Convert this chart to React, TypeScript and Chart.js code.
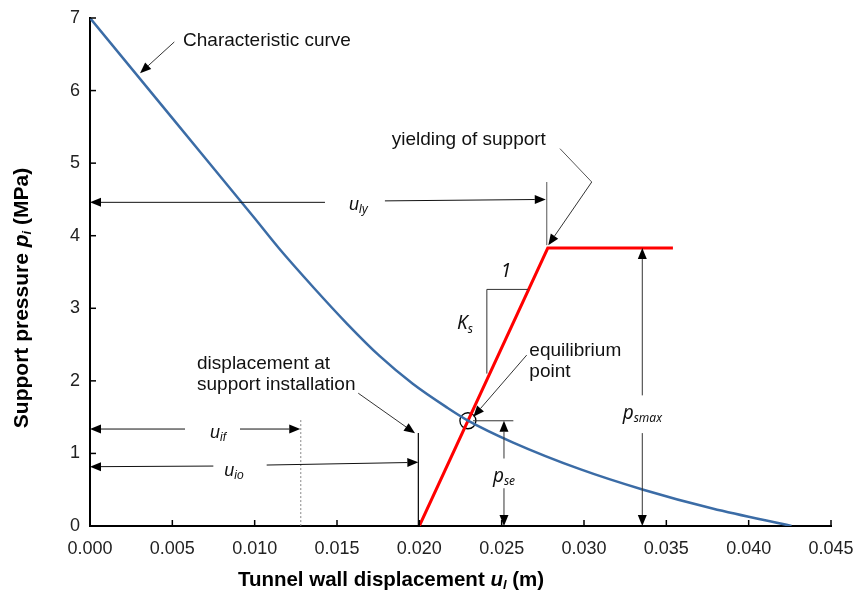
import React, { useEffect, useRef } from 'react';
import { Chart, registerables } from 'chart.js';

Chart.register(...registerables);

// Ground reaction (characteristic) curve: tunnel wall displacement (m) vs support pressure (MPa)
const curveDisp = [0, 0.005, 0.01, 0.0115, 0.0136, 0.0156, 0.0176, 0.0196, 0.0217, 0.0229, 0.0257, 0.0298, 0.0336, 0.0378, 0.0426];
const curvePress = [7.0, 5.62, 4.24, 3.82, 3.28, 2.79, 2.34, 1.96, 1.63, 1.46, 1.15, 0.78, 0.5, 0.24, 0.0];

// Support reaction line: installed at u_io, elastic up to p_smax, then yielding
const supportDisp = [0.02, 0.0278, 0.0354];
const supportPress = [0, 3.83, 3.83];

// Equilibrium between support and ground
const equilibriumDisp = [0.02295];
const equilibriumPress = [1.45];

// Reference displacements / pressures used by the dimension lines
const uIf = 0.0128;
const uIo = 0.02;
const uLy = 0.0278;
const pSmax = 3.83;
const pSe = 1.45;

// Axis ranges and tick spacing
const xRange = [0, 0.045];
const xStep = 0.005;
const yRange = [0, 7];
const yStep = 1;

const SANS = '"Liberation Sans", Arial, sans-serif';
const HUMAN = '"Noto Sans", "Open Sans", sans-serif';

type Run = { t: string; f: string; dy?: number };

function drawRich(ctx: CanvasRenderingContext2D, runs: Run[], x: number, y: number, align: 'left' | 'center' | 'right' = 'left') {
  let w = 0;
  for (const r of runs) {
    ctx.font = r.f;
    w += ctx.measureText(r.t).width;
  }
  let cx = align === 'center' ? x - w / 2 : align === 'right' ? x - w : x;
  ctx.textAlign = 'left';
  ctx.textBaseline = 'middle';
  for (const r of runs) {
    ctx.font = r.f;
    ctx.fillText(r.t, cx, y + (r.dy || 0));
    cx += ctx.measureText(r.t).width;
  }
}

function seg(ctx: CanvasRenderingContext2D, x1: number, y1: number, x2: number, y2: number, color = '#333', width = 1, dash: number[] = []) {
  ctx.save();
  ctx.strokeStyle = color;
  ctx.lineWidth = width;
  ctx.setLineDash(dash);
  ctx.beginPath();
  ctx.moveTo(x1, y1);
  ctx.lineTo(x2, y2);
  ctx.stroke();
  ctx.restore();
}

function arrow(ctx: CanvasRenderingContext2D, x1: number, y1: number, x2: number, y2: number, color = '#333') {
  const a = Math.atan2(y2 - y1, x2 - x1);
  const L = 11;
  const H = 4.5;
  const bx = x2 - L * Math.cos(a);
  const by = y2 - L * Math.sin(a);
  seg(ctx, x1, y1, bx, by, color, 1);
  ctx.save();
  ctx.fillStyle = '#000';
  ctx.beginPath();
  ctx.moveTo(x2, y2);
  ctx.lineTo(bx - H * Math.sin(a), by + H * Math.cos(a));
  ctx.lineTo(bx + H * Math.sin(a), by - H * Math.cos(a));
  ctx.closePath();
  ctx.fill();
  ctx.restore();
}

const annotate = {
  id: 'annotate',
  afterDraw(chart: any) {
    const { ctx, chartArea } = chart;
    const xs = chart.scales.x;
    const ys = chart.scales.y;
    const X = (u: number) => xs.getPixelForValue(u);
    const Y = (p: number) => ys.getPixelForValue(p);
    ctx.save();
    ctx.fillStyle = '#111';

    // inward tick marks
    ctx.strokeStyle = '#000';
    ctx.lineWidth = 1.5;
    for (const t of xs.ticks) {
      const px = X(t.value);
      ctx.beginPath();
      ctx.moveTo(px, chartArea.bottom);
      ctx.lineTo(px, chartArea.bottom - 6);
      ctx.stroke();
    }
    for (const t of ys.ticks) {
      const py = Y(t.value);
      ctx.beginPath();
      ctx.moveTo(chartArea.left, py);
      ctx.lineTo(chartArea.left + 6, py);
      ctx.stroke();
    }

    const label = `19px ${SANS}`;
    const uMain = `italic 18px ${SANS}`;
    const uSub = `italic 12px ${SANS}`;
    const pMain = `italic 19px ${HUMAN}`;
    const pSub = `italic 12px ${HUMAN}`;

    // Characteristic curve
    drawRich(ctx, [{ t: 'Characteristic curve', f: label }], X(0.00565), Y(6.69));
    arrow(ctx, X(0.00512), Y(6.67), X(0.00304), Y(6.24));

    // yielding of support
    drawRich(ctx, [{ t: 'yielding of support', f: label }], X(0.01832), Y(5.32));
    seg(ctx, X(0.02854), Y(5.2), X(0.03047), Y(4.74), '#555');
    arrow(ctx, X(0.03047), Y(4.74), X(0.02783), Y(3.87));
    seg(ctx, X(uLy) - 1, Y(4.74), X(uLy) - 1, Y(3.87), '#555');

    // u_ly dimension
    arrow(ctx, X(0.01427), Y(4.46), X(0), Y(4.46), '#111');
    drawRich(ctx, [{ t: 'u', f: uMain }, { t: 'ly', f: uSub, dy: 5 }], X(0.01573), Y(4.43));
    arrow(ctx, X(0.01791), Y(4.48), X(uLy) - 2, Y(4.5), '#111');

    // slope triangle
    seg(ctx, X(0.0241), Y(3.26), X(0.0266), Y(3.26), '#333');
    seg(ctx, X(0.0241), Y(3.26), X(0.0241), Y(2.1), '#333');
    drawRich(ctx, [{ t: '1', f: pMain }], X(0.02526), Y(3.5), 'center');
    drawRich(ctx, [{ t: 'K', f: pMain }, { t: 's', f: pSub, dy: 6 }], X(0.02277), Y(2.79), 'center');

    // equilibrium point
    drawRich(ctx, [{ t: 'equilibrium', f: label }], X(0.02668), Y(2.42));
    drawRich(ctx, [{ t: 'point', f: label }], X(0.02668), Y(2.12));
    arrow(ctx, X(0.02652), Y(2.355), X(0.02328), Y(1.505));

    // p_se dimension
    seg(ctx, X(0.02326), Y(pSe), X(0.02571), Y(pSe), '#333');
    arrow(ctx, X(0.02514), Y(0.93), X(0.02514), Y(pSe));
    drawRich(ctx, [{ t: 'p', f: pMain }, { t: 'se', f: pSub, dy: 5 }], X(0.02514), Y(0.68), 'center');
    arrow(ctx, X(0.02514), Y(0.52), X(0.02514), Y(0));

    // p_smax dimension
    arrow(ctx, X(0.03354), Y(1.8), X(0.03354), Y(pSmax));
    drawRich(ctx, [{ t: 'p', f: pMain }, { t: 'smax', f: pSub, dy: 5 }], X(0.03354), Y(1.55), 'center');
    arrow(ctx, X(0.03354), Y(1.28), X(0.03354), Y(0));

    // u_if dimension
    arrow(ctx, X(0.00577), Y(1.336), X(0), Y(1.336), '#111');
    drawRich(ctx, [{ t: 'u', f: uMain }, { t: 'if', f: uSub, dy: 5 }], X(0.00778), Y(1.28), 'center');
    arrow(ctx, X(0.00911), Y(1.336), X(uIf) - 0.5, Y(1.336), '#111');
    seg(ctx, X(uIf), Y(1.46), X(uIf), Y(0), '#888', 1, [2, 2]);

    // u_io dimension
    arrow(ctx, X(0.00749), Y(0.826), X(0), Y(0.817), '#111');
    drawRich(ctx, [{ t: 'u', f: uMain }, { t: 'io', f: uSub, dy: 5 }], X(0.00874), Y(0.76), 'center');
    arrow(ctx, X(0.01073), Y(0.84), X(uIo) - 1, Y(0.877), '#111');
    seg(ctx, X(uIo) - 1, Y(1.28), X(uIo) - 1, Y(0), '#000', 1.2);

    // displacement at support installation
    drawRich(ctx, [{ t: 'displacement at', f: label }], X(0.0065), Y(2.24));
    drawRich(ctx, [{ t: 'support installation', f: label }], X(0.0065), Y(1.94));
    arrow(ctx, X(0.01629), Y(1.83), X(0.01974), Y(1.277));

    // axis titles
    const tb = `bold 20.5px ${SANS}`;
    const tbi = `bold italic 20.5px ${SANS}`;
    const tbs = `bold italic 13px ${SANS}`;
    ctx.fillStyle = '#000';
    drawRich(ctx, [
      { t: 'Tunnel wall displacement ', f: tb },
      { t: 'u', f: tbi },
      { t: 'l', f: tbs, dy: 5 },
      { t: ' (m)', f: tb },
    ], chartArea.left + 301, 580, 'center');

    const yb = `bold 21px ${SANS}`;
    const ybi = `bold italic 21px ${SANS}`;
    const ybs = `bold italic 13px ${SANS}`;
    ctx.save();
    ctx.translate(22, 298);
    ctx.rotate(-Math.PI / 2);
    drawRich(ctx, [
      { t: 'Support pressure ', f: yb },
      { t: 'p', f: ybi },
      { t: 'i', f: ybs, dy: 5 },
      { t: ' (MPa)', f: yb },
    ], 0, 0, 'center');
    ctx.restore();

    ctx.restore();
  },
};

export default function App() {
  const ref = useRef<HTMLCanvasElement | null>(null);

  useEffect(() => {
    if (!ref.current) return;
    const tickFont = { family: SANS, size: 18 };
    const chart = new Chart(ref.current, {
      type: 'line',
      data: {
        datasets: [
          {
            label: 'Characteristic curve',
            data: curveDisp.map((u, i) => ({ x: u, y: curvePress[i] })),
            borderColor: '#3B6CA6',
            borderWidth: 2.5,
            pointRadius: 0,
            cubicInterpolationMode: 'monotone',
            fill: false,
          },
          {
            label: 'Support',
            data: supportDisp.map((u, i) => ({ x: u, y: supportPress[i] })),
            borderColor: '#FF0000',
            borderWidth: 3,
            pointRadius: 0,
            tension: 0,
            fill: false,
          },
          {
            label: 'Equilibrium point',
            data: equilibriumDisp.map((u, i) => ({ x: u, y: equilibriumPress[i] })),
            showLine: false,
            pointRadius: 8,
            pointBorderColor: '#000',
            pointBorderWidth: 1.3,
            pointBackgroundColor: 'rgba(0,0,0,0)',
          },
        ],
      },
      options: {
        animation: false,
        responsive: true,
        maintainAspectRatio: false,
        layout: { padding: { top: 18, right: 25, left: 0, bottom: 0 } },
        plugins: { legend: { display: false }, tooltip: { enabled: false } },
        scales: {
          x: {
            type: 'linear',
            min: xRange[0],
            max: xRange[1],
            ticks: {
              stepSize: xStep,
              callback: (v: any) => Number(v).toFixed(3),
              font: tickFont,
              color: '#222',
              padding: 12,
              maxRotation: 0,
              autoSkip: false,
            },
            grid: { display: false, drawTicks: false },
            border: { display: true, color: '#000', width: 2 },
            afterFit: (s: any) => {
              s.height = 73;
              s.paddingLeft = 0;
              s.paddingRight = 0;
            },
          },
          y: {
            type: 'linear',
            min: yRange[0],
            max: yRange[1],
            ticks: { stepSize: yStep, font: tickFont, color: '#222', padding: 10 },
            grid: { display: false, drawTicks: false },
            border: { display: true, color: '#000', width: 2 },
            afterFit: (s: any) => {
              s.width = 90;
              s.paddingTop = 0;
              s.paddingBottom = 0;
            },
          },
        },
      } as any,
      plugins: [annotate],
    });
    return () => chart.destroy();
  }, []);

  return (
    <div style={{ position: 'fixed', left: 0, top: 0, width: 856, height: 599, background: '#fff' }}>
      <canvas ref={ref} />
    </div>
  );
}
